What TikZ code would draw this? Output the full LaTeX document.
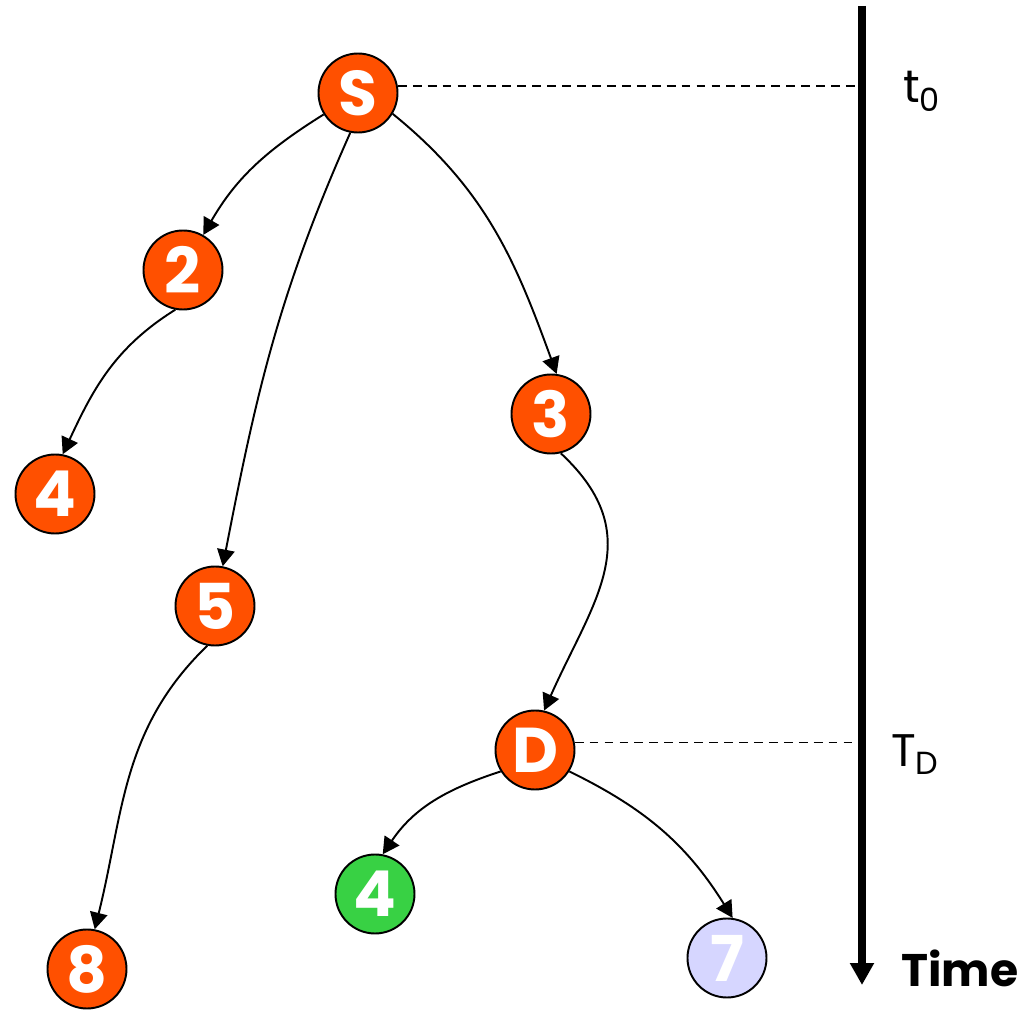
\documentclass[tikz,border=0pt]{standalone}
\usepackage{fontspec}
\setmainfont{Poppins}
\usepackage{tikz}
\usetikzlibrary{arrows.meta}

\definecolor{nodeorange}{RGB}{255,80,0}
\definecolor{nodegreen}{RGB}{56,209,68}
\definecolor{nodelilac}{RGB}{214,214,255}

\begin{document}
\begin{tikzpicture}[
    vtx/.style={draw,circle,line width=1.1pt,fill=nodeorange,text=white,
      minimum size=1.58cm,inner sep=0pt,
      font=\fontsize{36}{36}\selectfont\bfseries},
    lbl/.style={font=\fontsize{26}{26}\selectfont},
    >={Triangle[length=9.5pt,width=10pt]}]
            \useasboundingbox (0,0) rectangle (20.54,20.28);
            \node[vtx] (S) at (7.16,18.42) {S};
            \node[vtx] (n2) at (3.66,14.88) {2};
            \node[vtx] (n4a) at (1.10,10.40) {4};
            \node[vtx] (n5) at (4.30,8.16) {5};
            \node[vtx] (n8) at (1.74,0.90) {8};
            \node[vtx] (n3) at (11.02,12.00) {3};
            \node[vtx] (D) at (10.70,5.28) {D};
            \node[vtx,fill=nodegreen] (n4b) at (7.50,2.40) {4};
            \node[vtx,fill=nodelilac] (n7) at (14.54,1.12) {7};
            \path[->,line width=1.1pt] (S.212) edge[out=212,in=60] (n2)
              (S.259) edge[out=246,in=79] (n5)
              (S.329) edge[out=321,in=110] (n3.82)
              (n2.259) edge[out=212,in=65] (n4a.79)
              (n5.259) edge[out=224,in=76] (n8.79)
              (n3.284) edge[out=317,in=66,looseness=1.2] (D.77)
              (D.212) edge[out=198,in=56] (n4b.79)
              (D.328) edge[out=334,in=122] (n7.82);
            % time axis
            \coordinate (top) at (17.24,20.16);
            \coordinate (bot) at (17.24,0.58);
            \draw[line width=4pt,-{Triangle[length=12.5pt,width=13pt]}] (top) -- (bot);
            \draw[dashed,line width=0.8pt,dash pattern=on 5pt off 3.5pt] (S.10) -- (S.10 -| top);
            \draw[dashed,line width=0.8pt,dash pattern=on 5pt off 3.5pt] (D.11) -- (D.11 -| top);
            \node[lbl,anchor=base west] (t0) at (17.94,18.22) {t\textsubscript{0}};
            \node[lbl,anchor=base west] (TD) at (17.70,4.94) {T\textsubscript{D}};
            \node[lbl,anchor=base west,font=\fontsize{26}{26}\selectfont\bfseries] (time) at (17.90,0.56) {Time};
          \end{tikzpicture}
\end{document}
